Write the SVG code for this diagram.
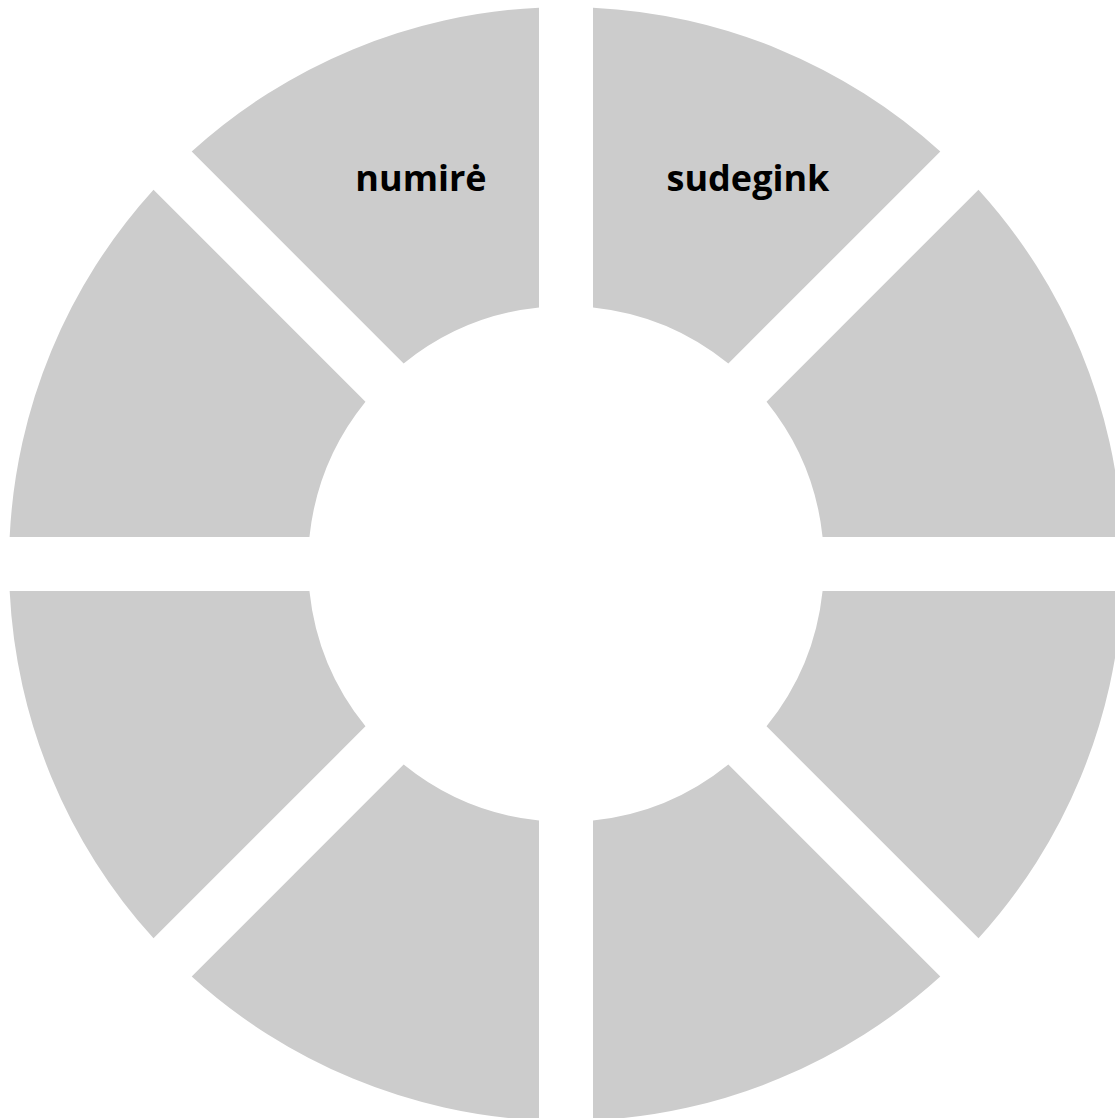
<svg xmlns="http://www.w3.org/2000/svg" width="1115" height="1118" viewBox="0 0 1115 1118">
<defs>
<style>
.seg{fill:#cccccc;stroke:none}
.lbl{font-family:"Open Sans","Noto Sans","DejaVu Sans",sans-serif;font-weight:700;font-size:36px;fill:#000000;text-anchor:middle}
</style>
<path id="segshape" d="M 539 7.65 A 557 557 0 0 0 191.69 151.51 L 403.66 363.48 A 258 258 0 0 1 539 307.42 Z"/>
</defs>
<rect width="1115" height="1118" fill="#ffffff"/>
<g id="connectors"/>
<g id="seg1"><use href="#segshape" class="seg"/><text class="lbl" x="421" y="191">numirė</text></g>
<g id="seg2"><use href="#segshape" class="seg" transform="translate(1132 0) scale(-1 1)"/><text class="lbl" x="748" y="191">sudegink</text></g>
<g id="seg3"><use href="#segshape" class="seg" transform="rotate(90 566 564)"/></g>
<g id="seg4"><use href="#segshape" class="seg" transform="rotate(135 566 564)"/></g>
<g id="seg5"><use href="#segshape" class="seg" transform="rotate(180 566 564)"/></g>
<g id="seg6"><use href="#segshape" class="seg" transform="rotate(225 566 564)"/></g>
<g id="seg7"><use href="#segshape" class="seg" transform="rotate(270 566 564)"/></g>
<g id="seg8"><use href="#segshape" class="seg" transform="rotate(315 566 564)"/></g>
</svg>
